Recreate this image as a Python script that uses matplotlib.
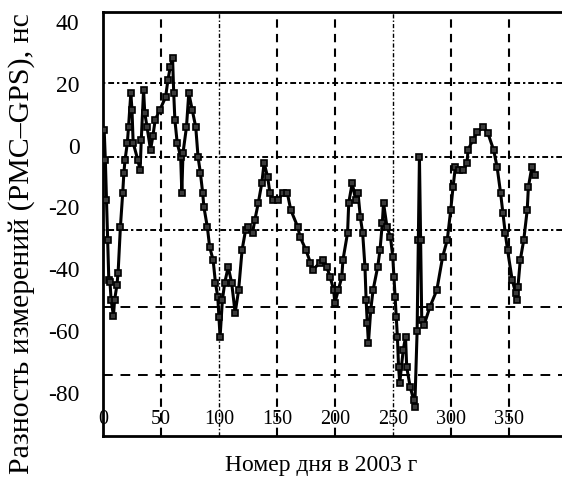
import matplotlib
matplotlib.use('Agg')
import matplotlib.pyplot as plt

# day of year 2003 and (PMC - GPS) difference, ns
days = [1, 2, 3, 4, 5, 6, 7, 9, 10, 12, 13, 15, 17, 18, 19, 21, 22, 24, 25,
        26, 30, 32, 33, 35, 36, 38, 41, 43, 45, 49, 54, 56, 58, 60, 61, 62,
        64, 67, 68, 69, 72, 74, 77, 80, 82, 84, 86, 87, 90,
        92, 95, 97, 99, 100, 101, 103, 105, 108, 111, 114, 117, 120, 123,
        125, 129, 131, 134, 137, 139, 142, 144, 147, 151, 155, 159, 162, 168,
        170, 175, 179, 181, 187, 190, 193, 196, 199, 200, 203, 206, 207, 211,
        212, 215, 218, 220, 222, 224, 226, 227, 228, 229, 231, 233, 237, 239,
        241, 242, 245, 248, 250, 251, 252, 253, 254, 255, 256, 259, 261, 262,
        265, 268, 269, 271, 272, 273, 274, 275, 277,
        282, 288, 293, 297, 300, 302, 304, 307, 311, 314, 315, 319, 323, 328,
        332, 337, 340, 343, 345, 347, 349, 353, 356, 357, 358, 360, 363, 366,
        367, 370, 373]
diff_ns = [5.1, -4.6, -17.6, -30.5, -43.4, -44.1, -49.9, -55.1, -49.9, -45.1,
           -41.2, -26.3, -15.3, -8.8, -4.6, 0.9, 6.0, 17.0, 11.5,
           0.9, -4.6, -7.9, 1.8, 18.0, 10.6, 6.0, -1.4, 3.0, 8.3, 11.5, 15.7,
           21.2, 25.4, 28.4, 17.0, 8.3, 0.9, -3.7, -15.3, -2.4, 6.0, 17.0,
           11.5, 6.0, -3.7, -8.8, -15.3, -19.8, -26.3,
           -32.8, -37.0, -44.4, -48.9, -55.4, -61.9, -49.9, -44.4, -39.2,
           -44.4, -54.1, -46.7, -33.7, -27.3, -26.3, -28.2, -24.0, -18.5,
           -12.1, -5.6, -10.1, -15.3, -17.6, -17.6, -15.3, -15.3, -20.8, -26.3,
           -29.5, -33.7, -37.9, -40.2, -37.9, -37.0, -39.2, -42.5, -46.7, -50.9,
           -46.7, -42.5, -37.0, -28.2, -18.5, -12.1, -17.6, -15.3, -23.1, -28.2,
           -39.2, -49.9, -57.3, -63.8, -53.1, -46.7, -39.2, -33.7, -25.0, -18.5,
           -26.3, -29.5, -36.0, -42.5, -48.9, -55.4, -61.9, -71.6, -76.8,
           -66.1, -61.9, -71.6, -78.0, -82.2, -84.5, -60.0, -30.5, -3.7, -30.5,
           -56.4, -58.0,
           -52.2, -46.7, -36.0, -30.5, -20.8, -13.4, -6.9, -7.9, -7.9, -5.6,
           -1.4, 1.8, 4.4, 6.0, 4.1, -1.4, -6.9, -15.3, -21.8, -28.2, -33.7,
           -43.4, -47.6, -49.9, -45.7, -37.0, -30.5, -20.8, -13.4, -6.9, -9.5]

x_ticks = [0, 50, 100, 150, 200, 250, 300, 350]
y_ticks = [40, 20, 0, -20, -40, -60, -80]
# grid lines of the scanned figure do not sit on the tick labels
h_grid = [20.2, -3.6, -27.3, -52.1, -74.2]

plt.rcParams['font.family'] = ['Liberation Serif', 'DejaVu Serif']
plt.rcParams['axes.unicode_minus'] = False

fig = plt.figure(figsize=(5.62, 4.86), dpi=100)
ax = fig.add_axes([0.1833, 0.1029, 0.8167, 0.8724])

ax.set_xlim(0, 396)
ax.set_ylim(-93.9, 43.2)

# vertical grid
for d in x_ticks[1:]:
    if d in (100, 250):
        ax.axvline(d, color='black', lw=1.0, dashes=(3, 1.5, 1, 1.5), zorder=1)
    else:
        ax.axvline(d, color='black', lw=1.5, dashes=(4, 3), zorder=1)

# horizontal grid
for i, v in enumerate(h_grid):
    if i < 3:
        ax.axhline(v, color='black', lw=1.4, dashes=(1.2, 1.5, 3, 1.5), zorder=1)
    else:
        ax.axhline(v, color='black', lw=1.4, dashes=(5, 4), zorder=1)

ax.plot(days, diff_ns, color='black', lw=2.2, marker='s', ms=4.2,
        mfc='#3a3a3a', mec='black', mew=1.2, zorder=3)

ax.set_xticks(x_ticks)
ax.set_yticks(y_ticks)
ax.set_xticklabels([str(t) for t in x_ticks], fontsize=14.5)
ax.set_yticklabels([str(t) for t in y_ticks], fontsize=17)
ax.tick_params(axis='x', length=0, pad=-19)
ax.tick_params(axis='y', length=0, pad=17)

for side in ('top', 'left', 'bottom'):
    ax.spines[side].set_linewidth(2)
ax.spines['right'].set_visible(False)

ax.set_ylabel('Разность измерений (PMC–GPS), нс', fontsize=21.5)
ax.yaxis.set_label_coords(-0.148, 0.455, transform=ax.transAxes)
ax.set_xlabel('Номер дня в 2003 г', fontsize=17)
ax.xaxis.set_label_coords(0.475, -0.045, transform=ax.transAxes)
ax.xaxis.label.set_va('top')

fig.savefig('out.png', dpi=100)
